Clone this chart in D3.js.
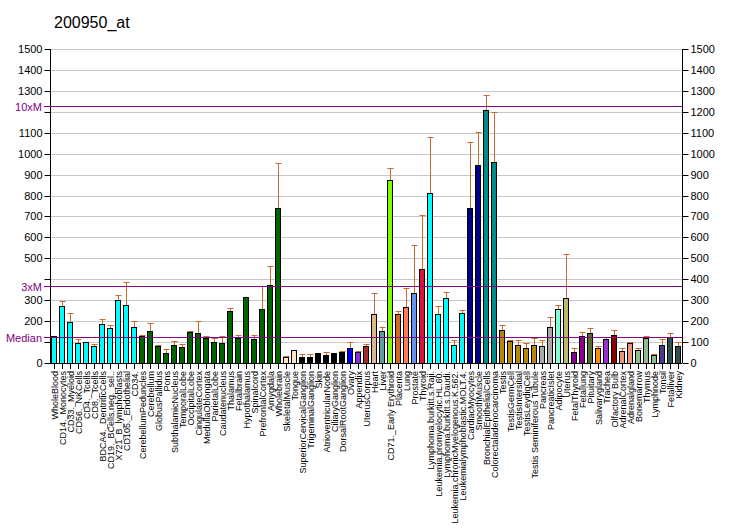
<!DOCTYPE html>
<html>
<head>
<meta charset="utf-8">
<script src="https://cdn.jsdelivr.net/npm/d3@7"></script>
<style>
html,body{margin:0;padding:0;background:#fff;}
svg{display:block;font-family:"Liberation Sans",Arial,sans-serif;}
</style>
</head>
<body>
<svg id="chart" width="732" height="530"></svg>
<script>
const title = "200950_at";
const tissues = ["WholeBlood","CD14._Monocytes","CD33._Myeloid","CD56._NKCells","CD4._Tcells","CD8._Tcells","BDCA4._DentriticCells","CD19._BCells.neg._sel..","X721_B_lymphoblasts","CD105._Endothelial","CD34.","CerebellumPeduncles","Cerebellum","GlobusPallidus","Pons","SubthalamicNucleus","TemporalLobe","OccipitalLobe","CingulateCortex","MedullaOblongata","ParietalLobe","Caudatenucleus","Thalamus","Fetalbrain","Hypothalamus","Spinalcord","PrefrontalCortex","Amygdala","Wholebrain","SkeletalMuscle","Tongue","SuperiorCervicalGanglion","TrigeminalGanglion","Skin","AtrioventricularNode","CiliaryGanglion","DorsalRootGanglion","Ovary","Appendix","UterusCorpus","Heart","Liver","CD71._Early Erythroid","Placenta","Lung","Prostate","Thyroid","Lymphoma.burkitt.s.Raji.","Leukemia.promyelocytic.HL.60.","Lymphoma.burkitt.s.Daudi.","Leukemia.chronicMyelogenous.K.562.","Leukemialymphoblastic.MOLT.4.","CardiacMyocytes","SmoothMuscle","BronchialEpithelialCells","Colorectaladenocarcinoma","Testis","TestisGermCell","TestisIntersitial","TestisLeydigCell","Testis Seminiferous Tubule","Pancreas","PancreaticIslet","Adipocyte","Uterus","FetalThyroid","Fetallung","Pituitary","Salivarygland","Trachea","Olfactory Bulb","AdrenalCortex","Adrenalgland","Bonemarrow","Thymus","Lymphnode","Tonsil","Fetalliver","Kidney"];
const values = [127,271,195,95,100,81,186,167,300,276,171,130,152,81,48,86,76,148,143,119,100,95,248,119,314,114,257,371,740,28,62,28,28,48,38,48,52,71,52,81,233,152,873,233,267,333,448,814,233,310,86,238,740,945,1207,960,159,105,86,71,86,81,171,257,310,52,129,143,71,114,133,57,95,62,119,38,86,124,81];
const errTops = [128,295,238,114,100,90,209,181,324,386,200,133,190,86,67,103,90,152,200,129,119,129,262,133,314,133,370,462,955,33,62,43,43,48,52,48,57,100,57,90,333,171,930,248,357,562,705,1078,271,338,110,252,1055,1105,1280,1198,181,110,110,95,119,110,219,276,522,71,148,167,81,124,157,71,100,71,129,43,114,143,100];
const groups = ["blood","blood","blood","blood","blood","blood","blood","blood","blood","blood","blood","brain","brain","brain","brain","brain","brain","brain","brain","brain","brain","brain","brain","brain","brain","brain","brain","brain","brain","muscle","muscle","ganglion","ganglion","ganglion","ganglion","ganglion","ganglion","ovary","appendix","uteruscorpus","heart","liver","erythroid","placenta","lung","prostate","thyroid","blood","blood","blood","blood","blood","cardiac","cardiac","epithelial","epithelial","testis","testis","testis","testis","testis","pancreas","pancreas","adipocyte","uterus","fetal","fetal","pituitary","salivary","trachea","olfactory","adrenal","adrenal","immune","immune","immune","tonsil","liverkidney","liverkidney"];
const yTicks = [0,100,200,300,400,500,600,700,800,900,1000,1100,1200,1300,1400,1500];
const leftHiddenTicks = [100,400,1200];
const median = 123;
const refLines = [{label:"10xM", value: median*10},{label:"3xM", value: median*3},{label:"Median", value: median}];

const groupColor = {blood:"#00FFFF",brain:"#006400",muscle:"#FFE4C4",ganglion:"#000000",ovary:"#0000FF",appendix:"#8A2BE2",uteruscorpus:"#A52A2A",heart:"#DEB887",liver:"#5F9EA0",erythroid:"#7FFF00",placenta:"#D2691E",lung:"#FF7F50",prostate:"#6495ED",thyroid:"#DC143C",cardiac:"#00008B",epithelial:"#008B8B",testis:"#B8860B",pancreas:"#A9A9A9",adipocyte:"#7FFFD4",uterus:"#BDB76B",fetal:"#8B008B",pituitary:"#556B2F",salivary:"#FF8C00",trachea:"#9932CC",olfactory:"#8B0000",adrenal:"#E9967A",immune:"#8FBC8F",tonsil:"#483D8B",liverkidney:"#2F4F4F"};

const svg = d3.select("#chart");
const L = 50, R = 682, T = 49, B = 363;
const x = d3.scaleBand().domain(tissues).range([L, R]).paddingInner(0.25).paddingOuter(0.125);
const y = d3.scaleLinear().domain([0, 1500]).range([B, T]);
const purple = "#800080";

svg.append("text").attr("x", 54).attr("y", 28).attr("font-size", 16).attr("fill", "#000").text(title);

// gridlines
svg.append("g").selectAll("line").data(yTicks.filter(d => d > 0)).join("line")
  .attr("x1", L).attr("x2", R).attr("y1", d => Math.round(y(d)) + 0.5).attr("y2", d => Math.round(y(d)) + 0.5)
  .attr("stroke", "#C8C8C8").attr("stroke-width", 1);

// axes
const leftAxis = d3.axisLeft(y).tickValues(yTicks).tickSize(6).tickPadding(2)
  .tickFormat(d => leftHiddenTicks.includes(d) ? "" : d3.format("d")(d));
const rightAxis = d3.axisRight(y).tickValues(yTicks).tickSize(6).tickPadding(2).tickFormat(d3.format("d"));
const gl = svg.append("g").attr("transform", `translate(${L + 0.5},0)`).call(leftAxis);
const gr = svg.append("g").attr("transform", `translate(${R + 0.5},0)`).call(rightAxis);
[gl, gr].forEach(g => {
  g.select(".domain").attr("stroke", "#000").attr("d", `M0,${T}V${B}`);
  g.selectAll(".tick").attr("transform", d => `translate(0,${Math.round(y(d)) + 0.5})`);
  g.selectAll(".tick line").attr("stroke", "#000");
  g.selectAll(".tick text").attr("font-size", 11).attr("fill", "#000").attr("font-family", "Liberation Sans, Arial, sans-serif");
});

// bars
svg.append("g").selectAll("rect").data(tissues).join("rect")
  .attr("x", d => Math.round(x(d)) + 0.5)
  .attr("y", (d, i) => Math.round(y(values[i])) + 0.5)
  .attr("width", Math.round(x.bandwidth()) - 1)
  .attr("height", (d, i) => Math.max(0, Math.round(y(0)) - Math.round(y(values[i]))))
  .attr("fill", (d, i) => groupColor[groups[i]])
  .attr("stroke", "#000").attr("stroke-width", 1);

// error bars
const eg = svg.append("g").attr("stroke", "#C8692E").attr("stroke-width", 1);
tissues.forEach((d, i) => {
  if (errTops[i] <= values[i] + 1) return;
  const cx = Math.round(x(d) + x.bandwidth() / 2) + 0.5;
  const yt = Math.round(y(errTops[i])) + 0.5;
  eg.append("line").attr("x1", cx).attr("x2", cx).attr("y1", Math.round(y(values[i]))).attr("y2", yt);
  eg.append("line").attr("x1", cx - 3).attr("x2", cx + 3).attr("y1", yt).attr("y2", yt);
});

// reference lines
const rg = svg.append("g");
refLines.forEach(r => {
  const yy = Math.round(y(r.value)) + 0.5;
  rg.append("line").attr("x1", L).attr("x2", R).attr("y1", yy).attr("y2", yy).attr("stroke", purple).attr("stroke-width", 1);
  rg.append("line").attr("x1", L - 6).attr("x2", L).attr("y1", yy).attr("y2", yy).attr("stroke", purple).attr("stroke-width", 1);
  rg.append("text").attr("x", L - 8).attr("y", yy + 4).attr("text-anchor", "end").attr("font-size", 11).attr("fill", purple).text(r.label);
});

// x axis
svg.append("line").attr("x1", L).attr("x2", R).attr("y1", B + 0.5).attr("y2", B + 0.5).attr("stroke", "#000");
const xg = svg.append("g");
xg.selectAll("line").data(tissues).join("line")
  .attr("x1", d => Math.round(x(d) + x.bandwidth() / 2) + 0.5)
  .attr("x2", d => Math.round(x(d) + x.bandwidth() / 2) + 0.5)
  .attr("y1", B).attr("y2", B + 6).attr("stroke", "#000");
xg.selectAll("text").data(tissues).join("text")
  .attr("transform", d => `translate(${x(d) + x.bandwidth() / 2 + 3.5},${B + 8}) rotate(-90)`)
  .attr("text-anchor", "end").attr("font-size", 9).attr("fill", "#000").text(d => d);
</script>
</body>
</html>
